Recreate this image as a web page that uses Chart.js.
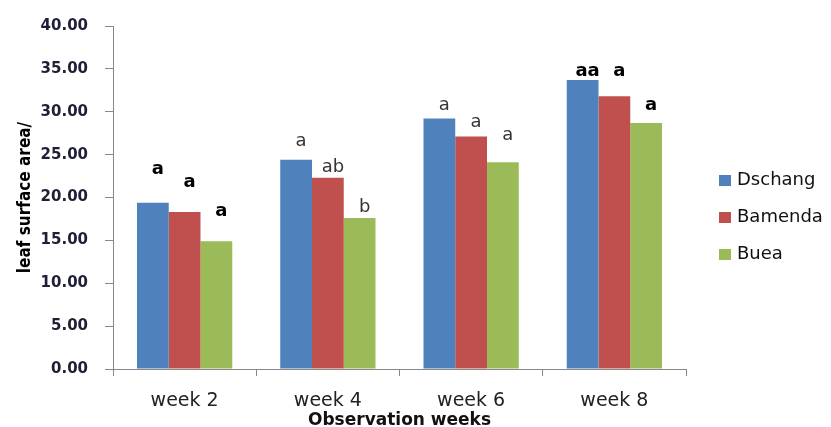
<!DOCTYPE html>
<html>
<head>
<meta charset="utf-8">
<script src="https://cdn.jsdelivr.net/npm/chart.js@4.4.0/dist/chart.umd.min.js"></script>
<style>
    html, body { margin: 0; padding: 0; background: #fff; }
</style>
</head>
<body>
<canvas id="leafChart" width="831" height="427"></canvas>
<script>
// 数据
const weeks = ['week 2', 'week 4', 'week 6', 'week 8'];
const seriesNames = ['Dschang', 'Bamenda', 'Buea'];
const dschang = [19.4, 24.4, 29.2, 33.7];
const bamenda = [18.3, 22.3, 27.1, 31.8];
const buea = [14.9, 17.6, 24.1, 28.7];
const yTickValues = [0, 5, 10, 15, 20, 25, 30, 35, 40];

// 显著性字母及其所在高度（数据单位）
const lettersDschang = ['a', 'a', 'a', 'aa'];
const lettersBamenda = ['a', 'ab', 'a', 'a'];
const lettersBuea = ['a', 'b', 'a', 'a'];
const letterAtDschang = [23.3, 26.5, 30.7, 34.7];
const letterAtBamenda = [21.8, 23.5, 28.8, 34.7];
const letterAtBuea = [18.4, 18.9, 27.2, 30.8];

const colors = ['#4F81BD', '#C0504D', '#9BBB59'];
const allLetters = [lettersDschang, lettersBamenda, lettersBuea];
const allLetterAt = [letterAtDschang, letterAtBamenda, letterAtBuea];
// week 2 和 week 8 的字母是粗黑体
const boldWeeks = [0, 3];

// 字母标注插件
const letterPlugin = {
    id: 'letters',
    afterDatasetsDraw(chart) {
        const ctx = chart.ctx;
        const yScale = chart.scales.y;
        ctx.save();
        ctx.textAlign = 'center';
        ctx.textBaseline = 'middle';
        allLetters.forEach((letters, di) => {
            const meta = chart.getDatasetMeta(di);
            letters.forEach((txt, wi) => {
                const bar = meta.data[wi];
                const bold = boldWeeks.includes(wi);
                ctx.font = (bold ? 'bold ' : '') + '18px "DejaVu Sans"';
                ctx.fillStyle = bold ? '#000' : '#3a3333';
                ctx.fillText(txt, bar.x + 5, yScale.getPixelForValue(allLetterAt[di][wi]));
            });
        });
        ctx.restore();
    }
};

// 右侧图例插件
const legendPlugin = {
    id: 'sideLegend',
    afterDraw(chart) {
        const ctx = chart.ctx;
        ctx.save();
        ctx.font = '18px "DejaVu Sans"';
        ctx.textBaseline = 'middle';
        ctx.textAlign = 'left';
        seriesNames.forEach((name, i) => {
            const cy = 180 + i * 37;
            ctx.fillStyle = colors[i];
            ctx.fillRect(719, cy - 5, 12, 11);
            ctx.fillStyle = '#111';
            ctx.fillText(name, 737, cy);
        });
        ctx.restore();
    }
};

new Chart(document.getElementById('leafChart'), {
    type: 'bar',
    data: {
        labels: weeks,
        datasets: [
            { label: seriesNames[0], data: dschang, backgroundColor: colors[0] },
            { label: seriesNames[1], data: bamenda, backgroundColor: colors[1] },
            { label: seriesNames[2], data: buea, backgroundColor: colors[2] }
        ]
    },
    options: {
        responsive: false,
        animation: false,
        devicePixelRatio: 1,
        layout: { padding: { top: 22, right: 145, left: 0, bottom: 0 } },
        datasets: { bar: { categoryPercentage: 0.665, barPercentage: 1.0 } },
        plugins: {
            legend: { display: false },
            tooltip: { enabled: false }
        },
        scales: {
            x: {
                afterFit(scale) { scale.height = 58; },
                grid: { display: true, drawOnChartArea: false, offset: true, tickLength: 7, color: '#888' },
                border: { color: '#888' },
                ticks: { color: '#222', font: { family: 'DejaVu Sans', size: 19 }, padding: 14, maxRotation: 0 },
                title: {
                    display: true,
                    text: 'Observation weeks',
                    color: '#111',
                    font: { family: 'DejaVu Sans', size: 17, weight: 'bold' },
                    padding: { top: 0, bottom: -4 }
                }
            },
            y: {
                min: 0,
                max: 40,
                afterFit(scale) { scale.width = 113; },
                afterBuildTicks(scale) { scale.ticks = yTickValues.map(v => ({ value: v })); },
                grid: { display: true, drawOnChartArea: false, tickLength: 8, color: '#888' },
                border: { color: '#888' },
                ticks: {
                    color: '#1e1e34',
                    font: { family: 'DejaVu Sans', size: 15, weight: 'bold' },
                    padding: 17,
                    callback: v => Number(v).toFixed(2)
                },
                title: {
                    display: true,
                    text: 'leaf surface area/',
                    color: '#000',
                    font: { family: 'DejaVu Sans Condensed', size: 17, weight: 'bold' },
                    padding: { top: 15, bottom: 0 }
                }
            }
        }
    },
    plugins: [letterPlugin, legendPlugin]
});
</script>
</body>
</html>
